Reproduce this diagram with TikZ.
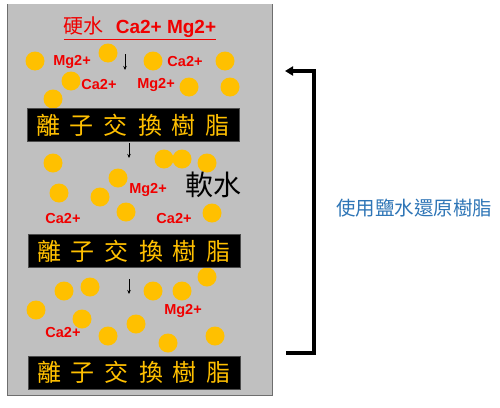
\documentclass[tikz,border=0pt]{standalone}
\usepackage{fontspec}
\setmainfont{Liberation Sans}
\newfontfamily\cjk{Noto Sans CJK TC}
\usetikzlibrary{arrows.meta}
\definecolor{panelgray}{RGB}{192,192,192}
\definecolor{paneledge}{RGB}{110,110,110}
\definecolor{resinyellow}{RGB}{255,192,0}
\definecolor{ionred}{RGB}{240,0,0}
\definecolor{noteblue}{RGB}{46,117,182}
\tikzset{
  dot/.style={circle, fill=resinyellow, minimum size=19pt, inner sep=0pt},
  ion/.style={text=ionred, font=\bfseries\fontsize{14.5}{16}\selectfont, inner sep=0pt},
  resin/.style={fill=black, draw=gray!60!black, line width=0.5pt, minimum width=212pt, minimum height=33pt, inner sep=0pt,
    text=resinyellow, font=\cjk\fontsize{24}{26}\selectfont},
  flow/.style={-{Stealth[length=4pt,width=3.5pt]}, line width=0.6pt, black},
  cycle/.style={line width=3.2pt, line cap=rect, line join=miter}
}
\newcommand{\resintext}{離\hspace{10pt}子\hspace{10pt}交\hspace{10pt}換\hspace{10pt}樹\hspace{10pt}脂}
\begin{document}
\begin{tikzpicture}[x=1pt,y=-1pt]
\useasboundingbox (0,0) rectangle (500,407);
% panel
\fill[panelgray] (7,4) rectangle (273,396);
\draw[paneledge, line width=1.5pt] (7.5,4) -- (7.5,395.5) -- (272.5,395.5) -- (272.5,4);
% dots
\foreach \x/\y [count=\i] in {35/61,108/53,153/61,225/61,71/81,189/87,230/87,53/99,
  53/163,164/159,182/159,207/163,118/178,59/193,100/197,126/212,212/213,
  64/291,90/287,153/291,182/291,207/277,36/310,82/319,136/324,108/336,168/343,215/336}
  \node[dot] (d\i) at (\x,\y) {};
% title
\node[text=ionred, inner sep=0pt] (title) at (140,28)
  {\underline{{\cjk\fontsize{20}{22}\selectfont 硬水}\hspace{12pt}{\bfseries\fontsize{19}{21}\selectfont Ca2+ Mg2+}}};
% ion labels
\node[ion] (m1) at (72,62) {Mg2+};
\node[ion] (c1) at (185,62) {Ca2+};
\node[ion] (c2) at (99,85) {Ca2+};
\node[ion] (m2) at (156,85) {Mg2+};
\node[ion] (m3) at (148,190) {Mg2+};
\node[ion] (c3) at (63,219) {Ca2+};
\node[ion] (c4) at (174,219) {Ca2+};
\node[ion] (m4) at (183,311) {Mg2+};
\node[ion] (c5) at (63,333) {Ca2+};
% soft water
\node[font=\cjk\fontsize{28}{30}\selectfont, inner sep=0pt] (soft) at (213,185) {軟水};
% resin boxes
\node[resin] (r1) at (133,125) {\resintext};
\node[resin] (r2) at (134,251) {\resintext};
\node[resin] (r3) at (134,372.5) {\resintext};
% flow arrows
\coordinate (a1s) at (125,54); \coordinate (a1e) at (125,70);
\coordinate (a2s) at (129,143); \coordinate (a2e) at (129,158);
\coordinate (a3s) at (129,279); \coordinate (a3e) at (129,294);
\draw[flow] (a1s) -- (a1e);
\draw[flow] (a2s) -- (a2e);
\draw[flow] (a3s) -- (a3e);
% regeneration bracket
\coordinate (bb) at (288,353);
\coordinate (bt) at (285,71);
\draw[cycle, -{Stealth[length=8pt,width=9pt,inset=0pt]}] (bb) -- (314,353) -- (314,71) -- (bt);
\node[text=noteblue, font=\cjk\fontsize{19.5}{21}\selectfont, inner sep=0pt] (note) at (414,208) {使用鹽水還原樹脂};
\end{tikzpicture}
\end{document}
